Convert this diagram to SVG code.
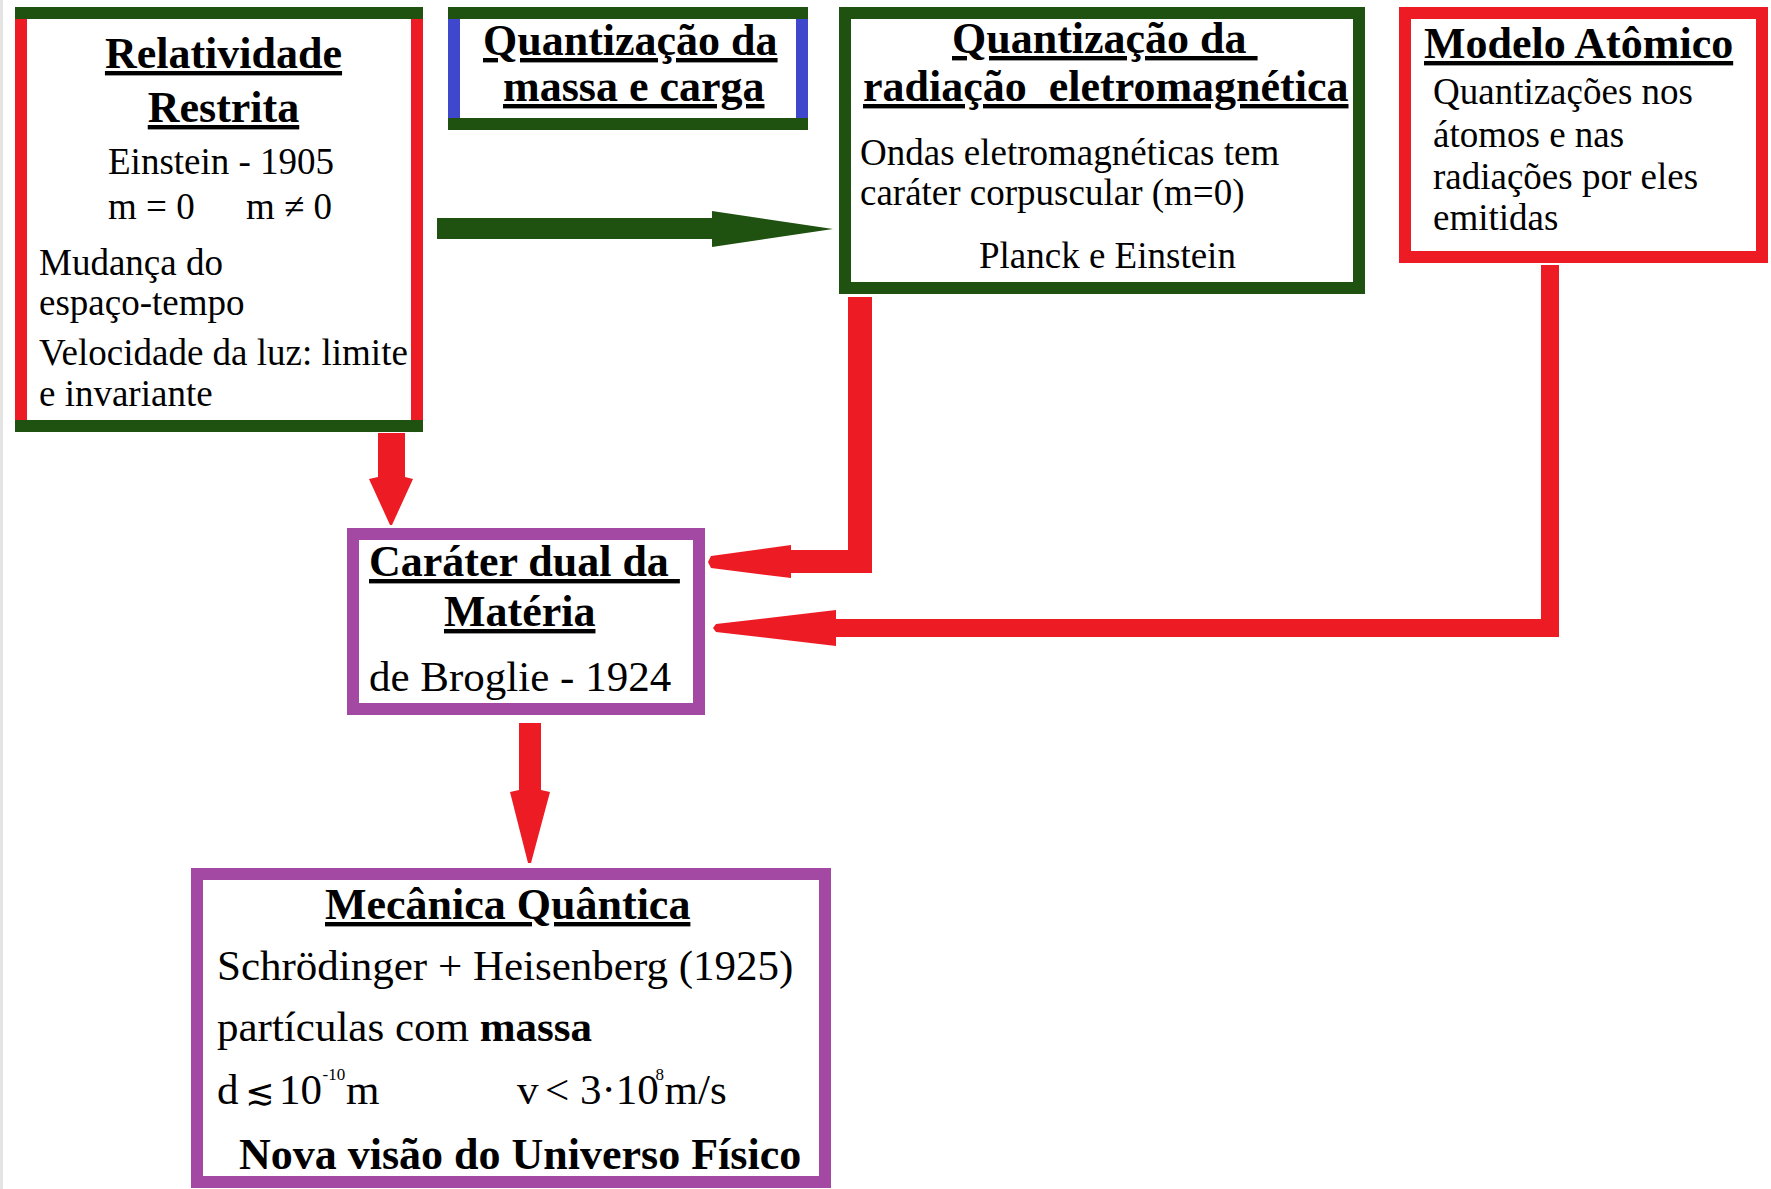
<svg xmlns="http://www.w3.org/2000/svg" width="1771" height="1189" viewBox="0 0 1771 1189">
<style>
text{font-family:"Liberation Serif","Times New Roman",serif;fill:#000}
.t{font-size:44px;font-weight:bold;text-decoration:underline;text-decoration-thickness:3px;white-space:pre}
.b{font-size:37px}
.b43{font-size:43px}
.bb{font-size:44px;font-weight:bold}
.sup{font-size:17px}
.sym{font-family:"DejaVu Serif","DejaVu Sans",serif;font-size:35px}
.g{fill:#1f5110}
.r{fill:#ed1c24}
.bl{fill:#3f48cc}
.box{fill:#fff;stroke-width:12}
</style>
<rect x="0" y="0" width="1771" height="1189" fill="#fff"/>
<rect x="0" y="0" width="3" height="1189" fill="#e4e4e4"/>

<g id="connectors">
<path class="g" d="M437,218 H712 V211 L833,229 L712,247 V239 H437 Z"/>
<path class="r" d="M378,433 H405 V477 L413,479 L392,525 L390,525 L369,479 L378,477 Z"/>
<path class="r" d="M848,297 H872 V573 H791 V578 L711,568 L708,562 L711,556 L791,545 V550 H848 Z"/>
<path class="r" d="M1541,265 H1559 V637 H836 V646 L716,632 L713,628 L716,624 L836,610 V619 H1541 Z"/>
<path class="r" d="M519,723 H541 V790 L550,792 L531,863 L528,863 L510,792 L519,790 Z"/>
</g>

<g id="relatividade">
<rect x="15" y="7" width="408" height="425" fill="#fff"/>
<rect class="g" x="15" y="7" width="408" height="12"/>
<rect class="g" x="15" y="420" width="408" height="12"/>
<rect class="r" x="15" y="19" width="12" height="401"/>
<rect class="r" x="411" y="19" width="12" height="401"/>
<text class="t" x="223.5" y="68" text-anchor="middle">Relatividade</text>
<text class="t" x="223.5" y="122" text-anchor="middle">Restrita</text>
<text class="b" x="108" y="174">Einstein - 1905</text>
<text class="b" x="108" y="219">m = 0</text>
<text class="b" x="246" y="219">m ≠ 0</text>
<text class="b" x="39" y="275">Mudança do</text>
<text class="b" x="39" y="315">espaço-tempo</text>
<text class="b" x="39" y="365">Velocidade da luz: limite</text>
<text class="b" x="39" y="406">e invariante</text>
</g>

<g id="quantizacao-massa">
<rect x="448" y="7" width="360" height="123" fill="#fff"/>
<rect class="g" x="448" y="7" width="360" height="12"/>
<rect class="g" x="448" y="118" width="360" height="12"/>
<rect class="bl" x="448" y="19" width="12" height="99"/>
<rect class="bl" x="796" y="19" width="12" height="99"/>
<text class="t" x="483" y="55">Quantização da</text>
<text class="t" x="503" y="101">massa e carga</text>
</g>

<g id="quantizacao-radiacao">
<rect class="box" x="845" y="13" width="514" height="275" stroke="#1f5110"/>
<text class="t" x="952" y="53">Quantização da </text>
<text class="t" x="863" y="101">radiação  eletromagnética</text>
<text class="b" x="860" y="165">Ondas eletromagnéticas tem</text>
<text class="b" x="860" y="205">caráter corpuscular (m=0)</text>
<text class="b" x="979" y="268">Planck e Einstein</text>
</g>

<g id="modelo-atomico">
<rect class="box" x="1405" y="13" width="357" height="244" stroke="#ed1c24"/>
<text class="t" x="1424" y="58">Modelo Atômico</text>
<text class="b" x="1433" y="104">Quantizações nos</text>
<text class="b" x="1433" y="147">átomos e nas</text>
<text class="b" x="1433" y="189">radiações por eles</text>
<text class="b" x="1433" y="230">emitidas</text>
</g>

<g id="carater-dual">
<rect class="box" x="353" y="534" width="346" height="175" stroke="#a349a4"/>
<text class="t" x="369" y="576">Caráter dual da </text>
<text class="t" x="444" y="626">Matéria</text>
<text class="b43" x="369" y="691">de Broglie - 1924</text>
</g>

<g id="mecanica-quantica">
<rect class="box" x="197" y="874" width="628" height="308" stroke="#a349a4"/>
<text class="t" x="325" y="919">Mecânica Quântica</text>
<text class="b43" x="217" y="980">Schrödinger + Heisenberg (1925)</text>
<text class="b43" x="217" y="1041">partículas com <tspan font-weight="bold">massa</tspan></text>
<text class="b43" x="217" y="1104">d<tspan class="sym" x="245">≲</tspan><tspan x="279">10</tspan><tspan class="sup" x="322.5" dy="-24">-10</tspan><tspan x="346" dy="24">m</tspan></text>
<text class="b43" x="517" y="1104">v<tspan x="545">&lt;</tspan><tspan x="580">3·10</tspan><tspan class="sup" x="655.5" dy="-24">8</tspan><tspan x="664.5" dy="24">m/s</tspan></text>
<text class="bb" x="239" y="1169">Nova visão do Universo Físico</text>
</g>
</svg>
